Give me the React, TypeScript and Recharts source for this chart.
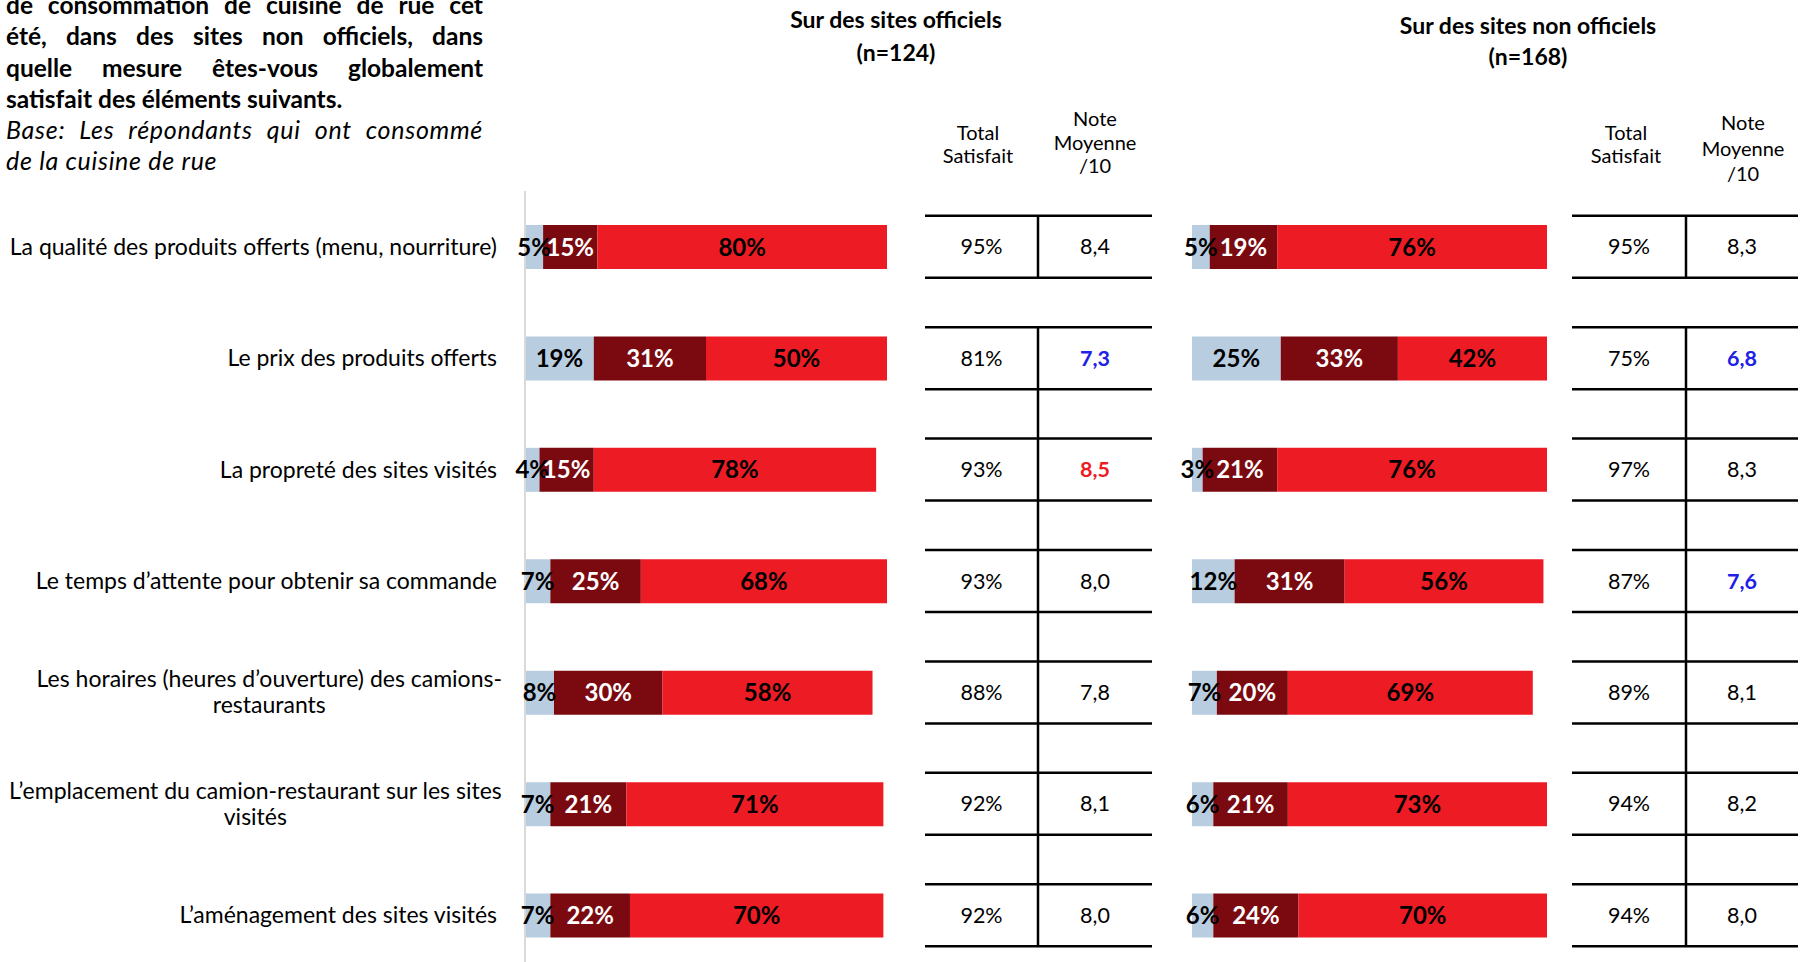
import React from 'react'
import { BarChart, Bar, XAxis, YAxis, LabelList } from 'recharts'

// aspects évalués (\n = retour à la ligne comme dans l'original)
const categories = [
  'La qualité des produits offerts (menu, nourriture)',
  'Le prix des produits offerts',
  'La propreté des sites visités',
  'Le temps d’attente pour obtenir sa commande',
  'Les horaires (heures d’ouverture) des camions-\nrestaurants',
  'L’emplacement du camion-restaurant sur les sites\nvisités',
  'L’aménagement des sites visités',
]

// Sur des sites officiels (n=124)
const officialPas = [5, 19, 4, 7, 8, 7, 7]
const officialAssez = [15, 31, 15, 25, 30, 21, 22]
const officialTres = [80, 50, 78, 68, 58, 71, 70]
const officialTotal = [95, 81, 93, 93, 88, 92, 92]
const officialNote = [8.4, 7.3, 8.5, 8.0, 7.8, 8.1, 8.0]
const officialFlag = ['', 'low', 'high', '', '', '', '']

// Sur des sites non officiels (n=168)
const nonOfficialPas = [5, 25, 3, 12, 7, 6, 6]
const nonOfficialAssez = [19, 33, 21, 31, 20, 21, 24]
const nonOfficialTres = [76, 42, 76, 56, 69, 73, 70]
const nonOfficialTotal = [95, 75, 97, 87, 89, 94, 94]
const nonOfficialNote = [8.3, 6.8, 8.3, 7.6, 8.1, 8.2, 8.0]
const nonOfficialFlag = ['', 'low', '', 'low', '', '', '']

const FONT = 'Lato, "Open Sans", sans-serif'
const LIGHT = '#B9CDE0'
const DARK = '#7B0A10'
const RED = '#ED1C24'
const BLUE = '#2020E6'

const TOP = 191
const CHART_H = 971
const BAND = (CHART_H - TOP) / categories.length
const rowCenter = (i: number) => TOP + (i + 0.5) * BAND

const officialData = categories.map((name, i) => ({
  name,
  pas: officialPas[i],
  assez: officialAssez[i],
  tres: officialTres[i],
}))

const nonOfficialData = categories.map((name, i) => ({
  name,
  pas: nonOfficialPas[i],
  assez: nonOfficialAssez[i],
  tres: nonOfficialTres[i],
}))

let ctx: CanvasRenderingContext2D | null = null
function measure(text: string, font: string) {
  if (!ctx) ctx = document.createElement('canvas').getContext('2d')
  if (!ctx) return text.length * 10
  ctx.font = font
  return ctx.measureText(text).width
}

const CAT_SIZE = 23

function CategoryTick(props: any) {
  const { x, y, payload } = props
  const lines = String(payload.value).split('\n')
  if (lines.length === 1) {
    return (
      <text x={x} y={y + CAT_SIZE * 0.35} textAnchor="end" fontSize={CAT_SIZE} fontFamily={FONT} fill="#000">
        {lines[0]}
      </text>
    )
  }
  const maxW = Math.max(...lines.map((l) => measure(l, `${CAT_SIZE}px Lato`)))
  const cx = x + 5 - maxW / 2
  return (
    <text textAnchor="middle" fontSize={CAT_SIZE} fontFamily={FONT} fill="#000">
      {lines.map((l, k) => (
        <tspan key={k} x={cx} y={y + CAT_SIZE * 0.35 + (k - (lines.length - 1) / 2) * 26}>
          {l}
        </tspan>
      ))}
    </text>
  )
}

const segLabel = (color: string) => (props: any) => {
  const { x, y, width, height, value } = props
  return (
    <text
      x={x + width / 2}
      y={y + height / 2 + 8.5}
      textAnchor="middle"
      fontSize={24}
      fontWeight={700}
      fontFamily={FONT}
      fill={color}
    >
      {value}%
    </text>
  )
}

function StackBars() {
  return [
    <Bar key="pas" dataKey="pas" stackId="s" fill={LIGHT} isAnimationActive={false}>
      <LabelList dataKey="pas" content={segLabel('#000')} />
    </Bar>,
    <Bar key="assez" dataKey="assez" stackId="s" fill={DARK} isAnimationActive={false}>
      <LabelList dataKey="assez" content={segLabel('#fff')} />
    </Bar>,
    <Bar key="tres" dataKey="tres" stackId="s" fill={RED} isAnimationActive={false}>
      <LabelList dataKey="tres" content={segLabel('#000')} />
    </Bar>,
  ]
}

function ScoreTable({ x0, xm, x1, total, note, flag }: any) {
  const half = 31
  const c0 = rowCenter(0)
  const cLast = rowCenter(categories.length - 1)
  const lines: React.ReactNode[] = []
  categories.forEach((_, i) => {
    const c = rowCenter(i)
    lines.push(<line key={'t' + i} x1={x0} x2={x1} y1={c - half} y2={c - half} stroke="#000" strokeWidth={2.5} />)
    lines.push(<line key={'b' + i} x1={x0} x2={x1} y1={c + half} y2={c + half} stroke="#000" strokeWidth={2.5} />)
  })
  lines.push(<line key="v0" x1={xm} x2={xm} y1={c0 - half} y2={c0 + half} stroke="#000" strokeWidth={2.5} />)
  lines.push(
    <line key="v1" x1={xm} x2={xm} y1={rowCenter(1) - half} y2={cLast + half} stroke="#000" strokeWidth={2.5} />
  )
  return (
    <g>
      {lines}
      {categories.map((_, i) => {
        const c = rowCenter(i)
        const f = flag[i]
        return (
          <g key={'v' + i}>
            <text x={(x0 + xm) / 2} y={c + 7.5} textAnchor="middle" fontSize={21.5} fontFamily={FONT} fill="#000">
              {total[i]}%
            </text>
            <text
              x={(xm + x1) / 2}
              y={c + 7.5}
              textAnchor="middle"
              fontSize={21.5}
              fontFamily={FONT}
              fontWeight={f ? 700 : 400}
              fill={f === 'low' ? BLUE : f === 'high' ? RED : '#000'}
            >
              {note[i].toFixed(1).replace('.', ',')}
            </text>
          </g>
        )
      })}
    </g>
  )
}

function Lines({ cx, ys, texts, size, bold }: any) {
  return (
    <g>
      {texts.map((t: string, k: number) => (
        <text
          key={k}
          x={cx}
          y={ys[k] + size * 0.35}
          textAnchor="middle"
          fontSize={size}
          fontWeight={bold ? 700 : 400}
          fontFamily={FONT}
          fill="#000"
        >
          {t}
        </text>
      ))}
    </g>
  )
}

const justified: React.CSSProperties = { textAlign: 'justify', textAlignLast: 'justify' as any, whiteSpace: 'nowrap' }

export default function App() {
  return (
    <div
      style={{
        position: 'absolute',
        left: 0,
        top: 0,
        width: 1802,
        height: 962,
        overflow: 'hidden',
        background: '#fff',
        fontFamily: FONT,
        color: '#000',
      }}
    >
      <div style={{ position: 'absolute', left: 6, top: -11, width: 477, lineHeight: '31.3px', fontSize: 24.5 }}>
        <div style={{ ...justified, fontWeight: 700 }}>de consommation de cuisine de rue cet</div>
        <div style={{ ...justified, fontWeight: 700 }}>été, dans des sites non officiels, dans</div>
        <div style={{ ...justified, fontWeight: 700 }}>quelle mesure êtes-vous globalement</div>
        <div style={{ fontWeight: 700 }}>satisfait des éléments suivants.</div>
        <div style={{ ...justified, fontStyle: 'italic', fontSize: 25, letterSpacing: 0.7 }}>
          Base: Les répondants qui ont consommé
        </div>
        <div style={{ fontStyle: 'italic', fontSize: 25, letterSpacing: 0.7 }}>de la cuisine de rue</div>
      </div>

      <div style={{ position: 'absolute', left: 0, top: 0 }}>
        <BarChart
          width={887}
          height={CHART_H}
          layout="vertical"
          data={officialData}
          margin={{ top: TOP, right: 0, bottom: 0, left: 0 }}
          barSize={44}
        >
          <XAxis type="number" domain={[0, 100]} hide />
          <YAxis
            type="category"
            dataKey="name"
            width={525}
            interval={0}
            axisLine={{ stroke: '#D9D9D9', strokeWidth: 2 }}
            tickLine={false}
            tickSize={0}
            tickMargin={28}
            tick={(p: any) => <CategoryTick {...p} />}
          />
          {StackBars()}
        </BarChart>
      </div>

      <div style={{ position: 'absolute', left: 1142, top: 0 }}>
        <BarChart
          width={405}
          height={CHART_H}
          layout="vertical"
          data={nonOfficialData}
          margin={{ top: TOP, right: 0, bottom: 0, left: 50 }}
          barSize={44}
        >
          <XAxis type="number" domain={[0, 100]} hide />
          <YAxis type="category" dataKey="name" hide />
          {StackBars()}
        </BarChart>
      </div>

      <svg width={1802} height={962} style={{ position: 'absolute', left: 0, top: 0, pointerEvents: 'none' }}>
        <Lines cx={896} ys={[20, 53]} texts={['Sur des sites officiels', '(n=124)']} size={23} bold />
        <Lines cx={1528} ys={[26, 57]} texts={['Sur des sites non officiels', '(n=168)']} size={23} bold />
        <Lines cx={978} ys={[133, 156]} texts={['Total', 'Satisfait']} size={20} />
        <Lines cx={1095} ys={[119, 143, 166]} texts={['Note', 'Moyenne', '/10']} size={20} />
        <Lines cx={1626} ys={[133, 156]} texts={['Total', 'Satisfait']} size={20} />
        <Lines cx={1743} ys={[123, 149, 174]} texts={['Note', 'Moyenne', '/10']} size={20} />
        <ScoreTable x0={925} xm={1038} x1={1152} total={officialTotal} note={officialNote} flag={officialFlag} />
        <ScoreTable x0={1572} xm={1686} x1={1798} total={nonOfficialTotal} note={nonOfficialNote} flag={nonOfficialFlag} />
      </svg>
    </div>
  )
}
